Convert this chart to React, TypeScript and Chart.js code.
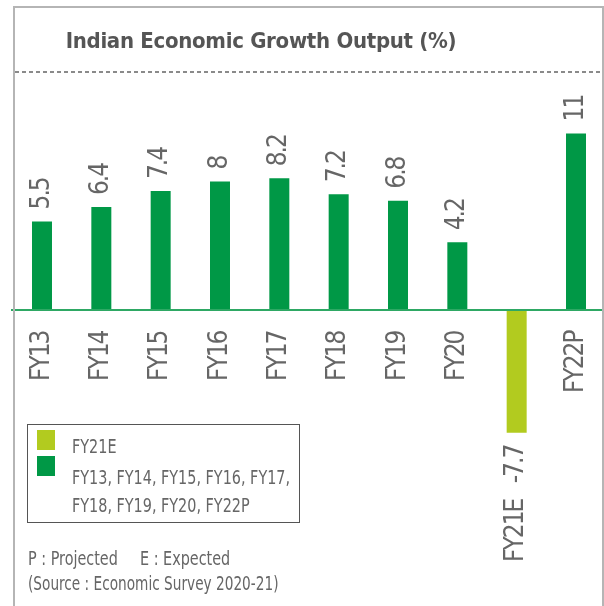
import React, { useEffect, useRef } from 'react';
import { Chart, registerables } from 'chart.js';

Chart.register(...registerables);

const TITLE = 'Indian Economic Growth Output (%)';
const categories = ['FY13', 'FY14', 'FY15', 'FY16', 'FY17', 'FY18', 'FY19', 'FY20', 'FY21E', 'FY22P'];
const growth = [5.5, 6.4, 7.4, 8, 8.2, 7.2, 6.8, 4.2, -7.7, 11];
const expectedYears = ['FY21E'];
const notes = ['P : Projected', 'E : Expected'];
const sourceNote = '(Source : Economic Survey 2020-21)';
const yMin = -12;
const yMax = 13;

const DARK = '#009846';
const LIGHT = '#B2CB1F';
const AXIS = '#2EA864';
const TEXT = '#666666';
const TITLE_C = '#555555';
const FRAME = '#b5b5b5';
const FONT = '"DejaVu Sans Condensed", "DejaVu Sans", sans-serif';

const otherYears = categories.filter((c) => !expectedYears.includes(c));
const legendLines = [
  otherYears.slice(0, 5).join(', ') + ',',
  otherYears.slice(5).join(', '),
];

const condenseText = {
  id: 'condenseText',
  beforeDraw(chart: any) {
    chart.ctx.letterSpacing = '-2px';
  },
  afterDraw(chart: any) {
    chart.ctx.letterSpacing = '0px';
  },
};

const valueLabels = {
  id: 'valueLabels',
  afterDatasetsDraw(chart: any) {
    const ctx = chart.ctx;
    const meta = chart.getDatasetMeta(0);
    ctx.save();
    ctx.fillStyle = TEXT;
    ctx.font = `26px ${FONT}`;
    ctx.letterSpacing = '-2px';
    ctx.textBaseline = 'middle';
    meta.data.forEach((bar: any, i: number) => {
      const v = growth[i];
      ctx.save();
      if (v >= 0) {
        ctx.translate(bar.x, bar.y - 12);
        ctx.rotate(-Math.PI / 2);
        ctx.textAlign = 'left';
        ctx.fillText(String(v), 0, 0);
      } else {
        ctx.translate(bar.x, bar.y + 13);
        ctx.rotate(-Math.PI / 2);
        ctx.textAlign = 'right';
        ctx.fillText(`${categories[i]}   ${v}`, 0, 0);
      }
      ctx.restore();
    });
    ctx.restore();
  },
};

export default function App() {
  const ref = useRef<HTMLCanvasElement | null>(null);

  useEffect(() => {
    if (!ref.current) return;
    const chart = new Chart(ref.current, {
      type: 'bar',
      data: {
        labels: categories,
        datasets: [
          {
            data: growth,
            backgroundColor: categories.map((c) => (expectedYears.includes(c) ? LIGHT : DARK)),
            borderWidth: 0,
            categoryPercentage: 0.337,
            barPercentage: 1,
          },
        ],
      },
      options: {
        animation: false,
        responsive: false,
        devicePixelRatio: 1,
        layout: { padding: { left: 12.33, right: 6.33, top: 27.5, bottom: 104.5 } },
        plugins: {
          legend: { display: false },
          tooltip: { enabled: false },
          title: { display: false },
        },
        scales: {
          x: {
            position: { y: 0 } as any,
            grid: { display: false, drawTicks: false },
            border: { display: true, color: AXIS, width: 2, z: 1 },
            ticks: {
              autoSkip: false,
              maxRotation: 90,
              minRotation: 90,
              padding: 22,
              color: TEXT,
              font: { family: FONT, size: 26 },
              callback: (_v: any, i: number) => (growth[i] < 0 ? '' : categories[i]),
            },
            afterFit: (s: any) => {
              s.paddingLeft = 0;
              s.paddingRight = 0;
            },
          },
          y: { display: false, min: yMin, max: yMax },
        },
      },
      plugins: [condenseText, valueLabels],
    } as any);
    return () => chart.destroy();
  }, []);

  const txt: React.CSSProperties = {
    position: 'absolute',
    fontFamily: FONT,
    fontSize: 20,
    lineHeight: '20px',
    color: TEXT,
    whiteSpace: 'nowrap',
    transform: 'scaleX(0.8)',
    transformOrigin: '0 0',
  };

  return (
    <div
      style={{
        position: 'absolute',
        left: 0,
        top: 0,
        width: 604,
        height: 606,
        overflow: 'hidden',
        background: '#ffffff',
      }}
    >
      <canvas
        ref={ref}
        width={612}
        height={532}
        style={{ position: 'absolute', left: 0, top: 74, width: 612, height: 532 }}
      />
      <div
        style={{
          position: 'absolute',
          left: 13,
          top: 6,
          width: 587,
          height: 620,
          borderLeft: `2px solid ${FRAME}`,
          borderTop: `2px solid ${FRAME}`,
          borderRight: `2px solid ${FRAME}`,
          pointerEvents: 'none',
        }}
      />
      <div
        style={{
          position: 'absolute',
          left: 15,
          top: 71,
          width: 587,
          height: 2,
          background: 'repeating-linear-gradient(to right, #8a8a8a 0px, #8a8a8a 4px, transparent 4px, transparent 7px)',
        }}
      />
      <div
        style={{
          position: 'absolute',
          left: 0,
          top: 30,
          width: 522,
          textAlign: 'center',
          fontFamily: FONT,
          fontWeight: 'bold',
          fontSize: 22,
          lineHeight: '22px',
          color: TITLE_C,
          whiteSpace: 'nowrap',
          letterSpacing: '-0.3px',
        }}
      >
        {TITLE}
      </div>
      <div
        style={{
          position: 'absolute',
          left: 27,
          top: 424,
          width: 271,
          height: 97,
          border: '1px solid #555555',
        }}
      />
      <div style={{ position: 'absolute', left: 37, top: 430, width: 18, height: 20, background: LIGHT }} />
      <div style={{ position: 'absolute', left: 37, top: 456, width: 18, height: 20, background: DARK }} />
      <div style={{ ...txt, left: 72, top: 436 }}>{expectedYears.join(', ')}</div>
      <div style={{ ...txt, left: 72, top: 467 }}>{legendLines[0]}</div>
      <div style={{ ...txt, left: 72, top: 495 }}>{legendLines[1]}</div>
      <div style={{ ...txt, left: 28, top: 548 }}>{notes[0]}</div>
      <div style={{ ...txt, left: 140, top: 548 }}>{notes[1]}</div>
      <div style={{ ...txt, left: 28, top: 573, transform: 'scaleX(0.76)' }}>{sourceNote}</div>
    </div>
  );
}
